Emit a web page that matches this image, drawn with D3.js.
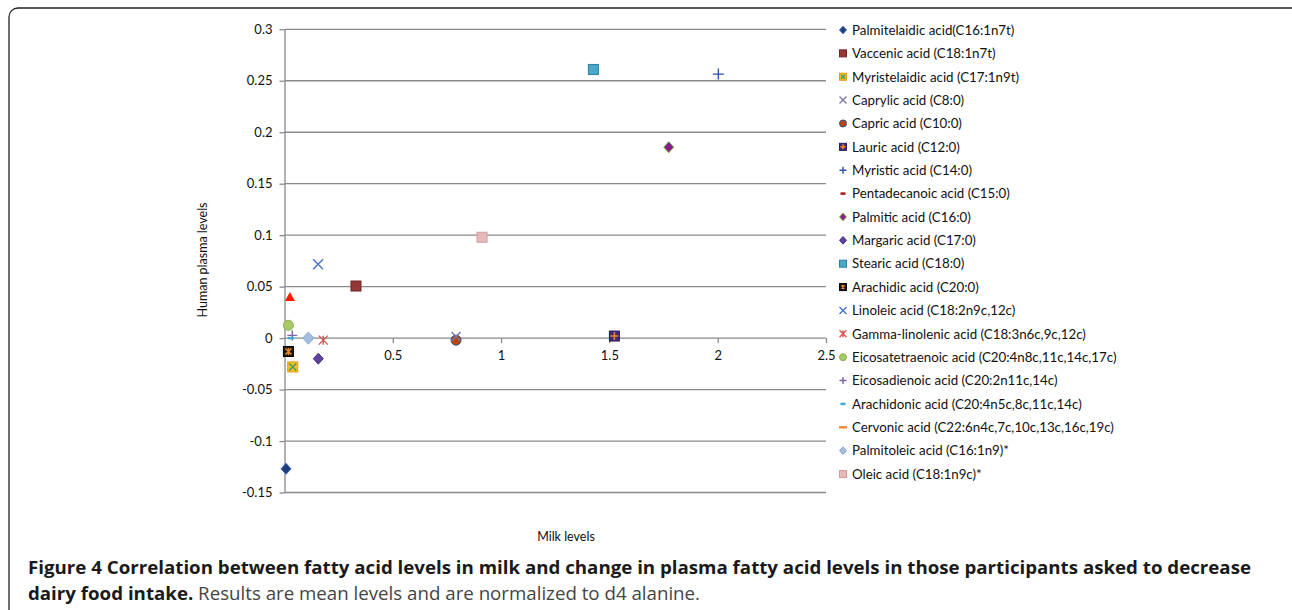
<!DOCTYPE html>
<html><head><meta charset="utf-8">
<script src="https://cdn.jsdelivr.net/npm/d3@7"></script>
<style>
html,body{margin:0;padding:0;background:#fff;}
svg{display:block;}
</style></head>
<body>
<svg id="chart" width="1292" height="610"></svg>
<script>
// ---------- DATA ----------
const seriesNames = [
  "Palmitelaidic acid(C16:1n7t)",
  "Vaccenic acid (C18:1n7t)",
  "Myristelaidic acid (C17:1n9t)",
  "Caprylic acid (C8:0)",
  "Capric acid (C10:0)",
  "Lauric acid (C12:0)",
  "Myristic acid (C14:0)",
  "Pentadecanoic acid (C15:0)",
  "Palmitic acid (C16:0)",
  "Margaric acid (C17:0)",
  "Stearic acid (C18:0)",
  "Arachidic acid (C20:0)",
  "Linoleic acid (C18:2n9c,12c)",
  "Gamma-linolenic acid (C18:3n6c,9c,12c)",
  "Eicosatetraenoic acid (C20:4n8c,11c,14c,17c)",
  "Eicosadienoic acid (C20:2n11c,14c)",
  "Arachidonic acid (C20:4n5c,8c,11c,14c)",
  "Cervonic acid (C22:6n4c,7c,10c,13c,16c,19c)",
  "Palmitoleic acid (C16:1n9)*",
  "Oleic acid (C18:1n9c)*"
];
const milkLevels   = [0.007, 0.330, 0.038, 0.792, 0.792, 1.523, 2.003, 0.792, 1.774, 0.156, 1.426, 0.018, 0.155, 0.179, 0.018, 0.036, 0.029, 1.523, 0.110, 0.912];
const plasmaLevels = [-0.127, 0.0506, -0.028, 0.0015, -0.002, 0.002, 0.2565, -0.002, 0.1855, -0.020, 0.261, -0.013, 0.0717, -0.002, 0.0124, 0.0026, 0.0, 0.002, 0.0, 0.098];
// extra unlabelled series (red triangle)
const extraMilk = [0.025];
const extraPlasma = [0.040];

const xTickValues = [0.5, 1, 1.5, 2, 2.5];
const yTickValues = [-0.15, -0.1, -0.05, 0, 0.05, 0.1, 0.15, 0.2, 0.25, 0.3];
const xTitle = "Milk levels";
const yTitle = "Human plasma levels";
const captionBold1 = "Figure 4 Correlation between fatty acid levels in milk and change in plasma fatty acid levels in those participants asked to decrease";
const captionBold2 = "dairy food intake.";
const captionRegular2 = " Results are mean levels and are normalized to d4 alanine.";

// ---------- STYLE ----------
const markerStyles = [
  {type:"diamond", fill:"#1f3d7a", stroke:"#3a6ab0", size:10},
  {type:"square", fill:"#953735", stroke:"#6e2626", size:10},
  {type:"squareX", fill:"#f6c11d", stroke:"#e09a10", mark:"#3e9a6e", size:10},
  {type:"x", stroke:"#7a7aa6", size:9},
  {type:"circle", fill:"#b8460e", stroke:"#2a5080", size:10},
  {type:"squareGrid", fill:"#3a2a80", stroke:"#2a1c5c", mark:"#f0821e", size:10},
  {type:"plus", stroke:"#2c54a8", size:11},
  {type:"dash", stroke:"#a01818", size:6},
  {type:"diamond", fill:"#8e1a90", stroke:"#6fc040", size:10},
  {type:"diamond", fill:"#6040a0", stroke:"#4a3080", size:10},
  {type:"square", fill:"#4aa8c8", stroke:"#2a7ea0", size:10},
  {type:"squareAst", fill:"#1a1a1a", stroke:"#000", mark:"#f08a20", size:10},
  {type:"x", stroke:"#4a72c8", size:10},
  {type:"asterisk", stroke:"#d85050", size:9},
  {type:"circle", fill:"#a6c96a", stroke:"#8db050", size:10},
  {type:"plus", stroke:"#8064a8", size:10},
  {type:"dash", stroke:"#40a8d0", size:6},
  {type:"dash", stroke:"#f58a3c", size:9},
  {type:"diamond", fill:"#a5bde0", stroke:"#8aa6d0", size:11},
  {type:"square", fill:"#e6b8b8", stroke:"#d49a9a", size:10}
];

const svg = d3.select("#chart");
const x = d3.scaleLinear().domain([0, 2.5]).range([284.5, 826]);
const y = d3.scaleLinear().domain([-0.15, 0.3]).range([492.5, 29.3]);

// border frame
svg.append("rect").attr("x", 9).attr("y", 8).attr("width", 1300).attr("height", 640)
  .attr("rx", 9).attr("fill", "none").attr("stroke", "#222").attr("stroke-width", 1.3);

// gridlines
svg.append("g").selectAll("line").data(yTickValues).join("line")
  .attr("x1", x(0)).attr("x2", x(2.5))
  .attr("y1", d => y(d)).attr("y2", d => y(d))
  .attr("stroke", "#8a8a8a").attr("stroke-width", 1.3);

const fmt = d => String(+d.toFixed(2));
const tickFont = "Lato, 'DejaVu Sans', sans-serif";

// y axis
const yAxis = svg.append("g").attr("transform", `translate(${x(0)},0)`)
  .call(d3.axisLeft(y).tickValues(yTickValues).tickSize(5).tickSizeOuter(0).tickPadding(7).tickFormat(fmt));
yAxis.select(".domain").attr("stroke", "#8a8a8a").attr("stroke-width", 1.3);
yAxis.selectAll(".tick line").attr("stroke", "#8a8a8a").attr("stroke-width", 1.3);
yAxis.selectAll("text").attr("font-family", tickFont).attr("font-size", 13).attr("fill", "#111");

// x axis at zero
const xAxis = svg.append("g").attr("transform", `translate(0,${y(0)})`)
  .call(d3.axisBottom(x).tickValues(xTickValues).tickSize(5).tickSizeOuter(0).tickPadding(8).tickFormat(fmt));
xAxis.select(".domain").remove();
xAxis.selectAll(".tick line").attr("stroke", "#8a8a8a").attr("stroke-width", 1.3);
xAxis.selectAll("text").attr("font-family", tickFont).attr("font-size", 13).attr("fill", "#111");

// axis titles
svg.append("text").attr("x", 566).attr("y", 541).attr("text-anchor", "middle")
  .attr("font-family", tickFont).attr("font-size", 12.5).attr("fill", "#111").text(xTitle);
svg.append("text").attr("transform", "translate(207,260) rotate(-90)").attr("text-anchor", "middle")
  .attr("font-family", tickFont).attr("font-size", 12.5).attr("fill", "#111").text(yTitle);

// marker drawing
function drawMarker(g, st, s) {
  const h = s / 2;
  switch (st.type) {
    case "diamond":
      g.append("path").attr("d", `M0,${-h*1.1}L${h},0L0,${h*1.1}L${-h},0Z`)
        .attr("fill", st.fill).attr("stroke", st.stroke).attr("stroke-width", 1); break;
    case "square":
      g.append("rect").attr("x", -h).attr("y", -h).attr("width", s).attr("height", s)
        .attr("fill", st.fill).attr("stroke", st.stroke).attr("stroke-width", 1); break;
    case "squareX":
      g.append("rect").attr("x", -h).attr("y", -h).attr("width", s).attr("height", s)
        .attr("fill", st.fill).attr("stroke", st.stroke).attr("stroke-width", 1);
      g.append("path").attr("d", `M${-h+1.5},${-h+1.5}L${h-1.5},${h-1.5}M${h-1.5},${-h+1.5}L${-h+1.5},${h-1.5}`)
        .attr("stroke", st.mark).attr("stroke-width", 1.4); break;
    case "squareGrid":
      g.append("rect").attr("x", -h).attr("y", -h).attr("width", s).attr("height", s)
        .attr("fill", st.fill).attr("stroke", st.stroke).attr("stroke-width", 1);
      g.append("path").attr("d", `M${-h+1},0L${h-1},0M0,${-h+1}L0,${h-1}`)
        .attr("stroke", st.mark).attr("stroke-width", 1.6); break;
    case "squareAst":
      g.append("rect").attr("x", -h).attr("y", -h).attr("width", s).attr("height", s)
        .attr("fill", st.fill).attr("stroke", st.stroke).attr("stroke-width", 1);
      g.append("path").attr("d", `M${-h+2},${-h+2}L${h-2},${h-2}M${h-2},${-h+2}L${-h+2},${h-2}M0,${-h+1.5}L0,${h-1.5}`)
        .attr("stroke", st.mark).attr("stroke-width", 1.5); break;
    case "x":
      g.append("path").attr("d", `M${-h},${-h}L${h},${h}M${h},${-h}L${-h},${h}`)
        .attr("stroke", st.stroke).attr("stroke-width", 1.4).attr("fill", "none"); break;
    case "plus":
      g.append("path").attr("d", `M${-h},0L${h},0M0,${-h}L0,${h}`)
        .attr("stroke", st.stroke).attr("stroke-width", 1.4).attr("fill", "none"); break;
    case "asterisk":
      g.append("path").attr("d", `M${-h},${-h}L${h},${h}M${h},${-h}L${-h},${h}M0,${-h}L0,${h}`)
        .attr("stroke", st.stroke).attr("stroke-width", 1.3).attr("fill", "none"); break;
    case "circle":
      g.append("circle").attr("r", h).attr("fill", st.fill).attr("stroke", st.stroke).attr("stroke-width", 1); break;
    case "dash":
      g.append("path").attr("d", `M${-h},0L${h},0`).attr("stroke", st.stroke).attr("stroke-width", 2.5); break;
    case "triangle":
      g.append("path").attr("d", `M0,${-h}L${h},${h*0.8}L${-h},${h*0.8}Z`).attr("fill", st.fill); break;
  }
}

// points (draw in an order so the hidden ones sit below)
const drawOrder = [7, 17, 0, 1, 2, 4, 3, 5, 6, 8, 9, 10, 11, 12, 13, 14, 15, 16, 18, 19];
const ptsG = svg.append("g");
drawOrder.forEach(i => {
  const g = ptsG.append("g").attr("transform", `translate(${x(milkLevels[i])},${y(plasmaLevels[i])})`);
  drawMarker(g, markerStyles[i], markerStyles[i].size);
});
extraMilk.forEach((m, i) => {
  const g = ptsG.append("g").attr("transform", `translate(${x(m)},${y(extraPlasma[i])})`);
  drawMarker(g, {type:"triangle", fill:"#ff1a00"}, 10);
});

// legend
const legG = svg.append("g");
seriesNames.forEach((name, i) => {
  const cy = 30 + i * 23.37;
  const g = legG.append("g").attr("transform", `translate(843,${cy})`);
  const st = markerStyles[i];
  let ls = st.type === "dash" ? (st.size > 7 ? 8 : 5) : 7;
  drawMarker(g, st, ls);
  legG.append("text").attr("x", 852).attr("y", cy).attr("dy", "0.36em")
    .attr("font-family", tickFont).attr("font-size", 13.3).attr("fill", "#111").text(name);
});

// caption
const capFont = "'Open Sans', 'Noto Sans', sans-serif";
const c1 = svg.append("text").attr("x", 28).attr("y", 574)
  .attr("font-family", capFont).attr("font-weight", "bold").attr("font-size", 18.5).attr("fill", "#1a1a1a")
  .text(captionBold1);
const w1 = c1.node().getComputedTextLength();
const target1 = 1251 - 28;
c1.attr("textLength", target1).attr("lengthAdjust", "spacingAndGlyphs");
const ratio = target1 / w1;
const c2 = svg.append("text").attr("x", 28).attr("y", 600)
  .attr("font-family", capFont).attr("font-size", 18.5);
const t2a = c2.append("tspan").attr("font-weight", "bold").attr("fill", "#1a1a1a").text(captionBold2);
const t2b = c2.append("tspan").attr("fill", "#444").text(captionRegular2);
const w2 = c2.node().getComputedTextLength();
c2.attr("textLength", w2 * ratio).attr("lengthAdjust", "spacingAndGlyphs");
</script>
</body></html>
